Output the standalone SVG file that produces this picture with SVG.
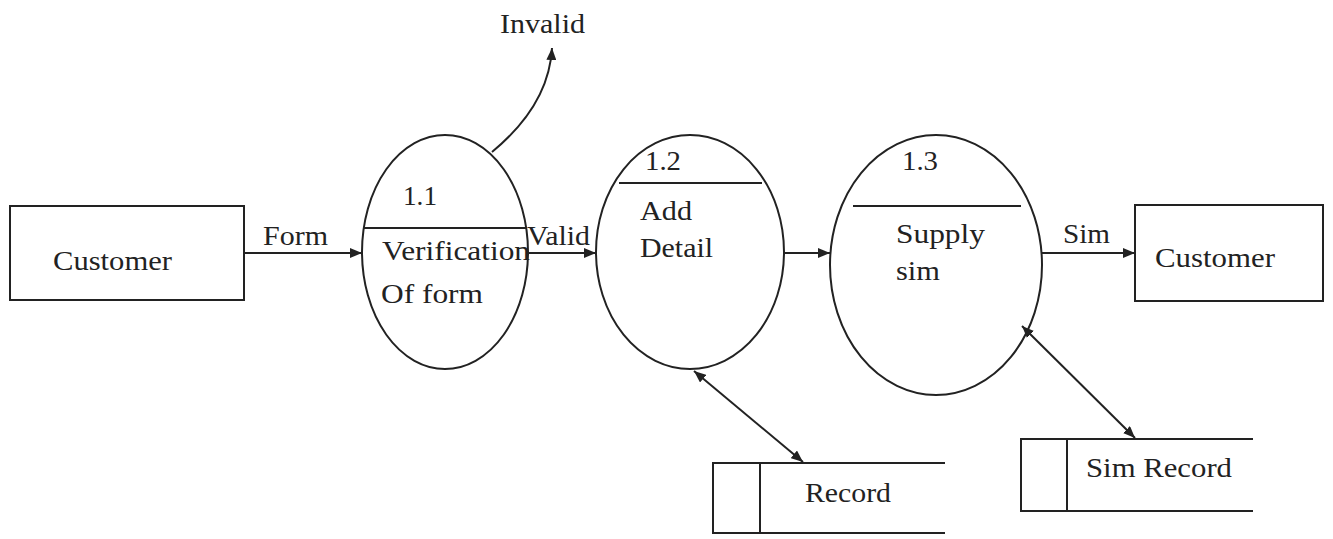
<svg xmlns="http://www.w3.org/2000/svg" width="1333" height="539" viewBox="0 0 1333 539">
<style>
.s{fill:none;stroke:#222;stroke-width:2}
.e{fill:#fff;stroke:#222;stroke-width:2}
.t{font-family:"Liberation Serif","Times New Roman",serif;font-size:28px;fill:#222}
.c{fill:none;stroke:#222;stroke-width:2}
</style>
<defs>
<marker id="ah" viewBox="0 0 12 10" refX="12" refY="5" markerWidth="12" markerHeight="10" markerUnits="userSpaceOnUse" orient="auto-start-reverse">
<path d="M0,0 L12,5 L0,10 Z" fill="#222"/>
</marker>
</defs>
<rect width="1333" height="539" fill="#fff"/>
<g id="customer1">
<rect class="s" x="10" y="206" width="234" height="94"/>
<text class="t" x="53" y="270" textLength="119" lengthAdjust="spacingAndGlyphs">Customer</text>
</g>
<g id="p11">
<ellipse class="e" cx="445" cy="252" rx="83" ry="117"/>
<line class="s" x1="363" y1="228" x2="527" y2="228"/>
<text class="t" x="403" y="205" textLength="34" lengthAdjust="spacingAndGlyphs">1.1</text>
<text class="t" x="382" y="260" textLength="148" lengthAdjust="spacingAndGlyphs">Verification</text>
<text class="t" x="381" y="303" textLength="102" lengthAdjust="spacingAndGlyphs">Of form</text>
</g>
<g id="p12">
<ellipse class="e" cx="690" cy="252" rx="94" ry="117"/>
<line class="s" x1="619" y1="183" x2="762" y2="183"/>
<text class="t" x="645" y="170" textLength="36" lengthAdjust="spacingAndGlyphs">1.2</text>
<text class="t" x="640" y="220" textLength="52" lengthAdjust="spacingAndGlyphs">Add</text>
<text class="t" x="640" y="257" textLength="73" lengthAdjust="spacingAndGlyphs">Detail</text>
</g>
<g id="p13">
<ellipse class="e" cx="936" cy="265" rx="106" ry="130"/>
<line class="s" x1="853" y1="206" x2="1021" y2="206"/>
<text class="t" x="902" y="170" textLength="36" lengthAdjust="spacingAndGlyphs">1.3</text>
<text class="t" x="896" y="243" textLength="89" lengthAdjust="spacingAndGlyphs">Supply</text>
<text class="t" x="896" y="280" textLength="44" lengthAdjust="spacingAndGlyphs">sim</text>
</g>
<g id="customer2">
<rect class="s" x="1135" y="205" width="188" height="96"/>
<text class="t" x="1155" y="267" textLength="120" lengthAdjust="spacingAndGlyphs">Customer</text>
</g>
<g id="record">
<path class="s" d="M945,463 H713 V533 H945 M760,463 V533"/>
<text class="t" x="805" y="502" textLength="86" lengthAdjust="spacingAndGlyphs">Record</text>
</g>
<g id="simrecord">
<path class="s" d="M1253,439 H1021 V511 H1253 M1067,439 V511"/>
<text class="t" x="1086" y="477" textLength="146" lengthAdjust="spacingAndGlyphs">Sim Record</text>
</g>
<g id="connectors">
<line class="c" x1="244" y1="253" x2="362" y2="253" marker-end="url(#ah)"/>
<text class="t" x="263" y="245" textLength="65" lengthAdjust="spacingAndGlyphs">Form</text>
<line class="c" x1="528" y1="253" x2="596" y2="253" marker-end="url(#ah)"/>
<text class="t" x="527" y="245" textLength="63" lengthAdjust="spacingAndGlyphs">Valid</text>
<path class="c" d="M492,152 Q549,105 552,48" marker-end="url(#ah)"/>
<text class="t" x="500" y="33" textLength="85" lengthAdjust="spacingAndGlyphs">Invalid</text>
<line class="c" x1="784" y1="253" x2="830" y2="253" marker-end="url(#ah)"/>
<line class="c" x1="1042" y1="253" x2="1135" y2="253" marker-end="url(#ah)"/>
<text class="t" x="1063" y="243" textLength="47" lengthAdjust="spacingAndGlyphs">Sim</text>
<line class="c" x1="694" y1="371" x2="803" y2="462" marker-start="url(#ah)" marker-end="url(#ah)"/>
<line class="c" x1="1022" y1="326" x2="1135" y2="438" marker-start="url(#ah)" marker-end="url(#ah)"/>
</g>
</svg>
